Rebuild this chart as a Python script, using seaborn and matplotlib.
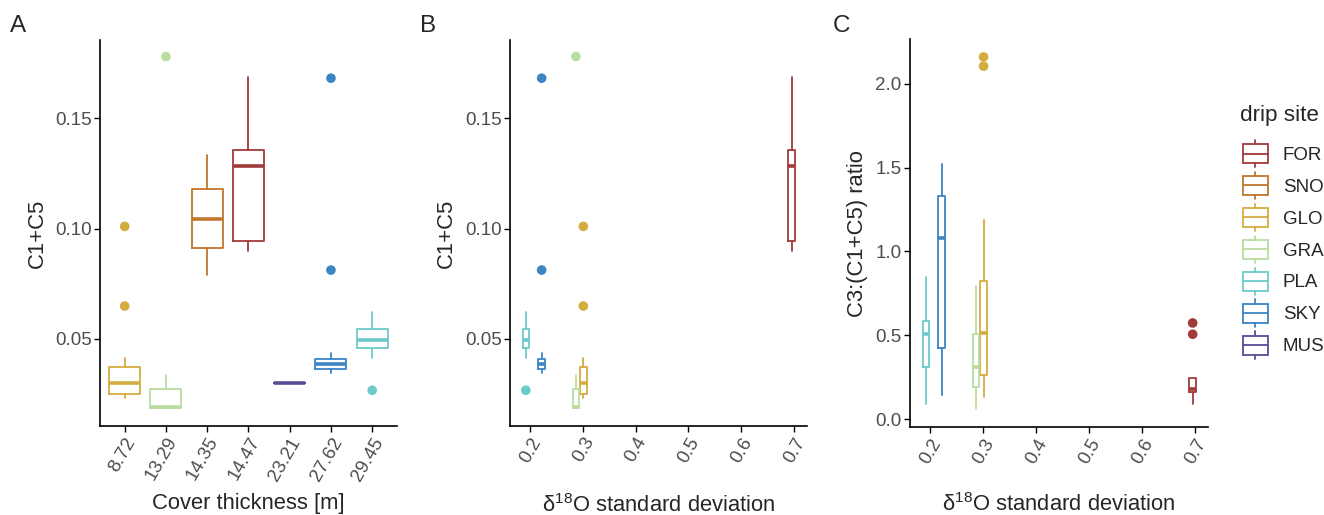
import numpy as np
import pandas as pd
import matplotlib
matplotlib.use('Agg')
import matplotlib.pyplot as plt
from matplotlib.patches import Patch, Rectangle
from matplotlib.lines import Line2D
from matplotlib.legend_handler import HandlerBase
import seaborn as sns

sns.set_theme(style='ticks')
plt.rcParams['font.family'] = ['Liberation Sans', 'DejaVu Sans']
plt.rcParams['mathtext.fontset'] = 'custom'
plt.rcParams['mathtext.rm'] = 'Liberation Sans'
plt.rcParams['mathtext.it'] = 'Liberation Sans:italic'

# drip sites, colours and site properties
sites = ['FOR', 'SNO', 'GLO', 'GRA', 'PLA', 'SKY', 'MUS']
colors = ['#a23a3a', '#c0762c', '#d3ad3f', '#bbdc9f', '#6ccaca', '#3c85c5', '#5c4b97']
cover = [14.47, 14.35, 8.72, 13.29, 29.45, 27.62, 23.21]
sd18o = [0.696, np.nan, 0.301, 0.287, 0.192, 0.222, np.nan]

# C1+C5 box summaries, per site
c15_lo = [0.0900, 0.0789, 0.0230, 0.0185, 0.0412, 0.0344, 0.0299]
c15_q1 = [0.0942, 0.0910, 0.0249, 0.0185, 0.0458, 0.0362, 0.0299]
c15_med = [0.1286, 0.1044, 0.0301, 0.0192, 0.0494, 0.0388, 0.0299]
c15_q3 = [0.1355, 0.1180, 0.0374, 0.0274, 0.0547, 0.0410, 0.0299]
c15_hi = [0.1686, 0.1332, 0.0415, 0.0336, 0.0623, 0.0435, 0.0299]
c15_out = [[], [], [0.101, 0.0649], [0.178], [0.0267], [0.1682, 0.0812], []]

# C3:(C1+C5) ratio box summaries, per site
rat_lo = [0.089, np.nan, 0.134, 0.059, 0.091, 0.144, np.nan]
rat_q1 = [0.160, np.nan, 0.263, 0.190, 0.312, 0.425, np.nan]
rat_med = [0.178, np.nan, 0.514, 0.312, 0.511, 1.078, np.nan]
rat_q3 = [0.247, np.nan, 0.823, 0.511, 0.584, 1.332, np.nan]
rat_hi = [0.247, np.nan, 1.189, 0.797, 0.847, 1.524, np.nan]
rat_out = [[0.574, 0.507], [], [2.159, 2.104], [], [], [], []]

palette = dict(zip(sites, colors))
cover_labels = sorted(cover)
pos_a = [cover_labels.index(c) for c in cover]


def draw_boxes(ax, lo, q1, med, q3, hi, out, xpos, width):
    stats, pos, cols, rows = [], [], [], []
    for i, s in enumerate(sites):
        if np.isnan(med[i]) or np.isnan(xpos[i]):
            continue
        stats.append(dict(whislo=lo[i], q1=q1[i], med=med[i], q3=q3[i], whishi=hi[i], fliers=[]))
        pos.append(xpos[i])
        cols.append(colors[i])
        for v in out[i]:
            rows.append(dict(site=s, x=xpos[i], y=v))
    bp = ax.bxp(stats, positions=pos, widths=width, showfliers=False, showcaps=False,
                manage_ticks=False)
    for j, c in enumerate(cols):
        bp['boxes'][j].set(color=c, linewidth=1.3)
        bp['medians'][j].set(color=c, linewidth=2.6, solid_capstyle='butt')
        for w in bp['whiskers'][2 * j:2 * j + 2]:
            w.set(color=c, linewidth=1.3)
    if rows:
        df = pd.DataFrame(rows)
        sns.scatterplot(data=df, x='x', y='y', hue='site', palette=palette, s=48,
                        edgecolor='none', legend=False, ax=ax, zorder=3)


def style_axis(ax):
    sns.despine(ax=ax)
    for sp in ['left', 'bottom']:
        ax.spines[sp].set_linewidth(1.2)
        ax.spines[sp].set_color('black')
    ax.tick_params(axis='both', length=4, width=1, color='black', labelsize=13.5,
                   labelcolor='#4d4d4d', pad=2)
    for lab in ax.get_xticklabels():
        lab.set_rotation(60)
        lab.set_ha('right')
        lab.set_va('top')
        lab.set_rotation_mode('anchor')
    ax.set_facecolor('white')


fig = plt.figure(figsize=(13.24, 5.15), dpi=100)
axA = fig.add_axes([0.0755, 0.1728, 0.2243, 0.7495])
axB = fig.add_axes([0.3852, 0.1728, 0.2243, 0.7495])
axC = fig.add_axes([0.6873, 0.1703, 0.2251, 0.7534])

lab_fs = 15.8

# Panel A
draw_boxes(axA, c15_lo, c15_q1, c15_med, c15_q3, c15_hi, c15_out, pos_a, 0.75)
axA.set_xlim(-0.6, 6.6)
axA.set_ylim(0.0105, 0.1855)
axA.set_xticks(range(len(cover_labels)))
axA.set_xticklabels([f'{c:.2f}' for c in cover_labels])
axA.set_yticks([0.05, 0.10, 0.15])
axA.set_yticklabels(['0.05', '0.10', '0.15'])
axA.set_xlabel('Cover thickness [m]', fontsize=lab_fs)
axA.set_ylabel('C1+C5', fontsize=lab_fs)

# Panel B
draw_boxes(axB, c15_lo, c15_q1, c15_med, c15_q3, c15_hi, c15_out, sd18o, 0.0126)
axB.set_xlim(0.162, 0.725)
axB.set_ylim(0.0105, 0.1855)
axB.set_xticks([0.2, 0.3, 0.4, 0.5, 0.6, 0.7])
axB.set_xticklabels(['0.2', '0.3', '0.4', '0.5', '0.6', '0.7'])
axB.set_yticks([0.05, 0.10, 0.15])
axB.set_yticklabels(['0.05', '0.10', '0.15'])
axB.set_xlabel(r'δ$^{18}$O standard deviation', fontsize=lab_fs)
axB.set_ylabel('C1+C5', fontsize=lab_fs)

# Panel C
draw_boxes(axC, rat_lo, rat_q1, rat_med, rat_q3, rat_hi, rat_out, sd18o, 0.0126)
axC.set_xlim(0.162, 0.725)
axC.set_ylim(-0.0475, 2.264)
axC.set_xticks([0.2, 0.3, 0.4, 0.5, 0.6, 0.7])
axC.set_xticklabels(['0.2', '0.3', '0.4', '0.5', '0.6', '0.7'])
axC.set_yticks([0.0, 0.5, 1.0, 1.5, 2.0])
axC.set_yticklabels(['0.0', '0.5', '1.0', '1.5', '2.0'])
axC.set_xlabel(r'δ$^{18}$O standard deviation', fontsize=lab_fs)
axC.set_ylabel('C3:(C1+C5) ratio', fontsize=lab_fs)

for ax in (axA, axB, axC):
    style_axis(ax)
    ax.xaxis.label.set_va('center')
    ax.yaxis.label.set_va('center')

axA.xaxis.set_label_coords(0.5, -0.20)
axB.xaxis.set_label_coords(0.5, -0.205)
axC.xaxis.set_label_coords(0.5, -0.20)
axA.yaxis.set_label_coords(-0.212, 0.5)
axB.yaxis.set_label_coords(-0.213, 0.5)
axC.yaxis.set_label_coords(-0.176, 0.5)

# panel letters
for x, lab in [(10, 'A'), (420, 'B'), (833, 'C')]:
    fig.text(x / 1324, 1 - 26 / 515, lab, fontsize=17.5, va='center', ha='left')


class HandlerBox(HandlerBase):
    def create_artists(self, legend, orig_handle, xdescent, ydescent, width, height,
                       fontsize, trans):
        c = orig_handle.get_edgecolor()
        x0, x1 = -xdescent, -xdescent + width
        y0 = -ydescent
        xm = (x0 + x1) / 2
        b0, b1 = y0 + height * 0.05, y0 + height * 0.95
        rect = Rectangle((x0, b0), width, b1 - b0, facecolor='white', edgecolor=c,
                         linewidth=1.3, transform=trans)
        med = Line2D([x0, x1], [(b0 + b1) / 2] * 2, color=c, linewidth=1.3, transform=trans)
        w1 = Line2D([xm, xm], [y0 - height * 0.15, b0], color=c, linewidth=1.3, transform=trans)
        w2 = Line2D([xm, xm], [b1, y0 + height * 1.15], color=c, linewidth=1.3, transform=trans)
        return [rect, med, w1, w2]


fig.text(1240 / 1324, 1 - 115 / 515, 'drip site', fontsize=16.2, va='center', ha='left')
handles = [Patch(facecolor='white', edgecolor=c, label=s) for s, c in zip(sites, colors)]
leg = fig.legend(handles=handles, loc='upper left',
                 bbox_to_anchor=(1243 / 1324, 1 - 143 / 515), frameon=False,
                 fontsize=13.5, handlelength=1.33, handleheight=1.35, borderpad=0,
                 borderaxespad=0, labelspacing=0.58, handletextpad=0.8,
                 handler_map={Patch: HandlerBox()})

fig.savefig('out.png', dpi=100, facecolor='white')
